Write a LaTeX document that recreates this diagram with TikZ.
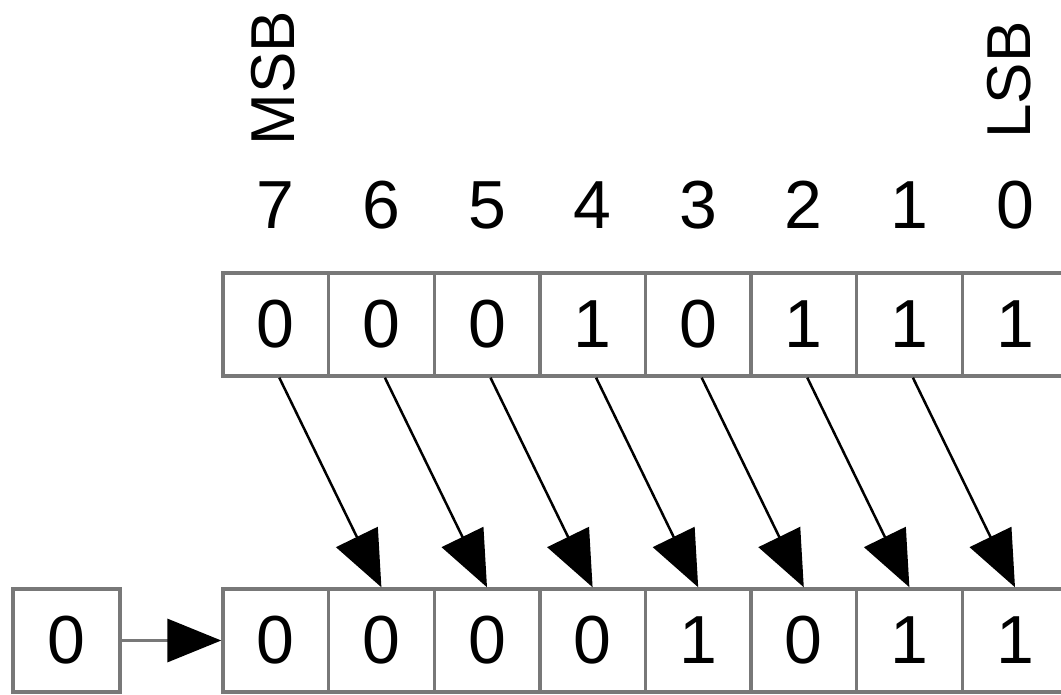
\documentclass[tikz,border=0pt]{standalone}
\usepackage{fontspec}
\setmainfont{Liberation Sans}
\usetikzlibrary{arrows.meta,calc}
\definecolor{boxgray}{RGB}{120,120,120}
\begin{document}
\begin{tikzpicture}[x=1pt,y=-1pt,
  cell/.style={draw=boxgray,line width=3.4pt,minimum width=105.6pt,minimum height=103pt,inner sep=0pt,font=\fontsize{68}{80}\selectfont},
  lbl/.style={inner sep=0pt,font=\fontsize{68}{80}\selectfont},
  sidelbl/.style={inner sep=0pt,rotate=90,font=\fontsize{62}{74}\selectfont},
  shiftarrow/.style={line width=2.5pt,-{Triangle[length=56pt,width=46pt]}},
  feedarrow/.style={draw=boxgray,line width=3.4pt,-{Triangle[length=54pt,width=43pt,color=black]}}
]
\useasboundingbox (0,0) rectangle (1061,695);
\clip (0,0) rectangle (1061,695);
\foreach \v/\w/\i [count=\k from 0] in {0/0/7,0/0/6,0/0/5,1/0/4,0/1/3,1/0/2,1/1/1,1/1/0} {
  \pgfmathsetmacro\cx{223+105.6*\k+52.8}
  \node[cell] (t\k) at (\cx,324.5) {\v};
  \node[cell] (b\k) at (\cx,640.5) {\w};
  \node[lbl] (i\k) at (\cx,205) {\i};
}
\node[sidelbl] (msb) at (273,78) {MSB};
\node[sidelbl] (lsb) at (1009,80) {LSB};
\node[cell,minimum width=107pt] (z) at (66.5,640.5) {0};
\draw[feedarrow] (z.east) -- (b0.west);
\foreach \k [evaluate=\k as \n using int(\k+1)] in {0,...,6} {
  \draw[shiftarrow] ($(t\k.south)+(3.5,0)$) -- (b\n.north);
}
\end{tikzpicture}
\end{document}
